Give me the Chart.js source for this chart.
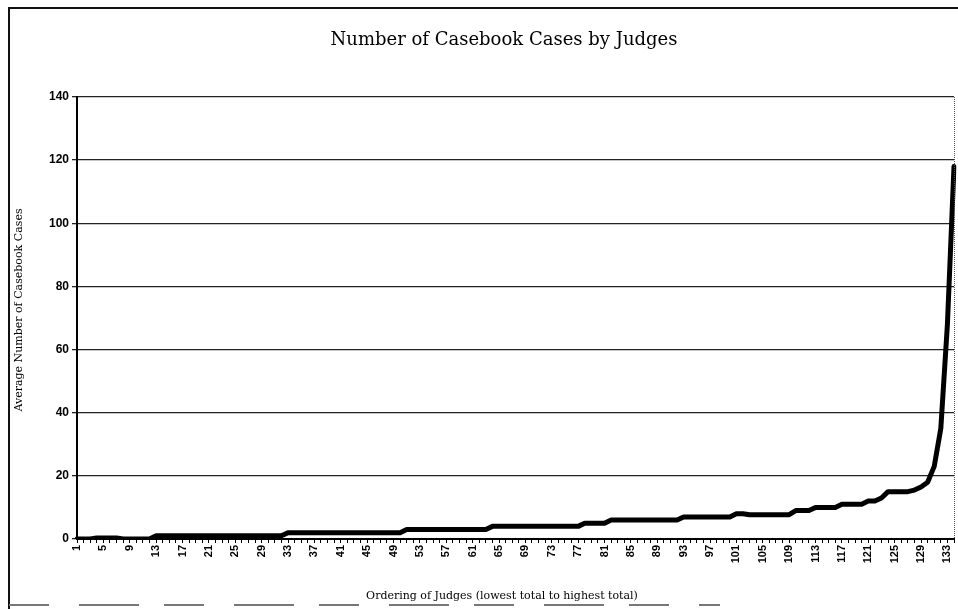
<!DOCTYPE html>
<html>
<head>
<meta charset="utf-8">
<script src="https://cdn.jsdelivr.net/npm/chart.js@4/dist/chart.umd.min.js"></script>
<style>
  html, body { margin: 0; padding: 0; background: #fff; }
  #wrap { position: relative; width: 958px; height: 609px; }
</style>
</head>
<body>
<div id="wrap"><canvas id="c" width="958" height="609"></canvas></div>
<script>
// Judges ordered from lowest to highest total (1..134)
const judgeCount = 134;
const judgeOrder = Array.from({ length: judgeCount }, (_, i) => String(i + 1));

// Average number of casebook cases per judge, in the same order
const avgCases = [
  0, 0, 0, 0.3, 0.3, 0.3, 0.3, 0, 0, 0,             // 1-10
  0, 0, 1, 1, 1, 1, 1, 1, 1, 1,                     // 11-20
  1, 1, 1, 1, 1, 1, 1, 1, 1, 1,                     // 21-30
  1, 1, 2, 2, 2, 2, 2, 2, 2, 2,                     // 31-40
  2, 2, 2, 2, 2, 2, 2, 2, 2, 2,                     // 41-50
  3, 3, 3, 3, 3, 3, 3, 3, 3, 3,                     // 51-60
  3, 3, 3, 4, 4, 4, 4, 4, 4, 4,                     // 61-70
  4, 4, 4, 4, 4, 4, 4, 5, 5, 5,                     // 71-80
  5, 6, 6, 6, 6, 6, 6, 6, 6, 6,                     // 81-90
  6, 6, 7, 7, 7, 7, 7, 7, 7, 7,                     // 91-100
  8, 8, 7.7, 7.7, 7.7, 7.7, 7.7, 7.7, 7.7, 9,       // 101-110
  9, 9, 10, 10, 10, 10, 11, 11, 11, 11,             // 111-120
  12, 12, 13, 15, 15, 15, 15, 15.5, 16.5, 18,       // 121-130
  23, 35, 68, 118                                   // 131-134
];

// Y axis tick values
const yTicks = [0, 20, 40, 60, 80, 100, 120, 140];

const chartTitle = 'Number of Casebook Cases by Judges';
const yTitle = 'Average Number of Casebook Cases';
const xTitle = 'Ordering of Judges (lowest total to highest total)';

// Frame, titles and the dotted right edge of the plot area
const decorations = {
  id: 'decorations',
  afterDraw(chart) {
    const ctx = chart.ctx;
    const a = chart.chartArea;
    ctx.save();

    // plot area right edge (dotted)
    ctx.strokeStyle = '#555';
    ctx.lineWidth = 1;
    ctx.setLineDash([1, 1]);
    ctx.beginPath();
    ctx.moveTo(a.right + 0.5, a.top);
    ctx.lineTo(a.right + 0.5, a.bottom);
    ctx.stroke();
    ctx.setLineDash([]);

    // outer frame
    ctx.strokeStyle = '#111';
    ctx.lineWidth = 2;
    ctx.beginPath();
    ctx.moveTo(9, 609);
    ctx.lineTo(9, 8);
    ctx.lineTo(958, 8);
    ctx.stroke();
    ctx.strokeStyle = '#777';
    ctx.lineWidth = 2;
    ctx.setLineDash([40, 30, 60, 25]);
    ctx.beginPath();
    ctx.moveTo(9, 605);
    ctx.lineTo(720, 605);
    ctx.stroke();
    ctx.setLineDash([]);

    ctx.fillStyle = '#000';
    ctx.textAlign = 'center';
    ctx.textBaseline = 'middle';

    // chart title
    ctx.font = '18px "DejaVu Serif"';
    ctx.fillText(chartTitle, 504, 40);

    // x axis title
    ctx.font = '11px "DejaVu Serif"';
    ctx.fillText(xTitle, 502, 596);

    // y axis title
    ctx.save();
    ctx.translate(19, 310);
    ctx.rotate(-Math.PI / 2);
    ctx.font = '11px "DejaVu Serif"';
    ctx.fillText(yTitle, 0, 0);
    ctx.restore();

    ctx.restore();
  }
};

new Chart(document.getElementById('c'), {
  type: 'line',
  data: {
    labels: judgeOrder,
    datasets: [{
      data: avgCases,
      borderColor: '#000',
      borderWidth: 5,
      pointRadius: 0,
      tension: 0,
      fill: false,
      borderJoinStyle: 'round',
      borderCapStyle: 'round'
    }]
  },
  options: {
    responsive: false,
    animation: false,
    events: [],
    layout: { padding: { top: 97, left: 0, right: 4, bottom: 0 } },
    plugins: {
      legend: { display: false },
      tooltip: { enabled: false },
      title: { display: false }
    },
    scales: {
      x: {
        offset: false,
        afterFit(scale) {
          scale.height = 70;
          scale.paddingLeft = 0;
          scale.paddingRight = 0;
        },
        border: { display: true, color: '#000', width: 2 },
        grid: {
          display: true,
          drawOnChartArea: false,
          drawTicks: true,
          tickLength: 4,
          color: '#000',
          lineWidth: 1
        },
        ticks: {
          autoSkip: false,
          minRotation: 90,
          maxRotation: 90,
          padding: 2,
          color: '#000',
          font: { family: '"Liberation Sans", Arial, sans-serif', size: 11, weight: 'bold' },
          callback(value, index) {
            return index % 4 === 0 ? judgeOrder[index] : '';
          }
        }
      },
      y: {
        min: yTicks[0],
        max: yTicks[yTicks.length - 1],
        afterFit(scale) {
          scale.width = 77;
          scale.paddingTop = 0;
          scale.paddingBottom = 0;
        },
        afterBuildTicks(scale) { scale.ticks = yTicks.map(v => ({ value: v })); },
        border: { display: true, color: '#000', width: 2 },
        grid: {
          color: '#222',
          lineWidth: 1.3,
          drawTicks: true,
          tickLength: 5
        },
        ticks: {
          padding: 3,
          color: '#000',
          font: { family: '"Liberation Sans", Arial, sans-serif', size: 12, weight: 'bold' }
        }
      }
    }
  },
  plugins: [decorations]
});
</script>
</body>
</html>
